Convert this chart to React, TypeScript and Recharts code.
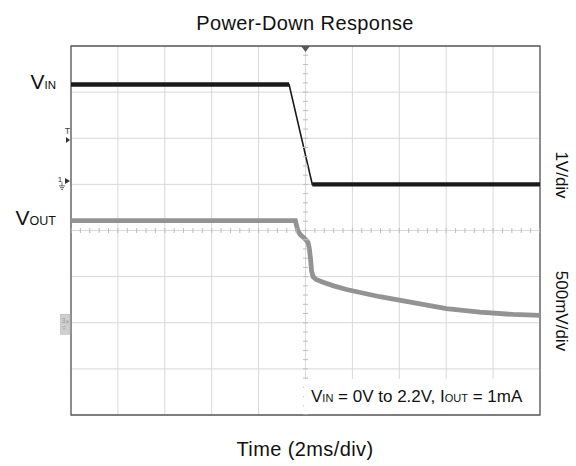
import React from 'react';
import {
  ComposedChart,
  Line,
  XAxis,
  YAxis,
  CartesianGrid,
  ReferenceArea,
  ReferenceDot,
  Scatter,
} from 'recharts';

const W = 576;
const H = 466;
const FONT = '"Liberation Sans", Arial, Helvetica, sans-serif';

// Time axis in ms (2 ms/div), trigger at 0
const timeTicks = [-10, -8, -6, -4, -2, 0, 2, 4, 6, 8, 10];
// VIN channel: 1 V/div, ground marker 5 divisions above bottom
const vinTicks = [-5, -4, -3, -2, -1, 0, 1, 2, 3];
// VOUT channel: 500 mV/div, ground marker 2 divisions above bottom
const voutDomain = [-1, 3];

// VIN trace (V vs ms)
const vinTime = [-10, -0.7, 0.29, 10];
const vinVolts = [2.165, 2.165, 0, 0];

// VOUT trace (V vs ms)
const voutTime = [
  -10, -0.43, -0.34, -0.24, -0.06, 0.11, 0.16, 0.22, 0.26, 0.32, 0.45, 0.75, 1.2,
  1.75, 3.17, 4.59, 6.01, 7.43, 8.85, 10,
];
const voutVolts = [
  1.106, 1.106, 1.01, 0.96, 0.92, 0.87, 0.81, 0.68, 0.56, 0.5, 0.47, 0.44, 0.4,
  0.36, 0.282, 0.217, 0.152, 0.115, 0.09, 0.079,
];

// scope markers
const triggerLevel = 0.96; // V on VIN channel
const vinGround = 0;
const voutGround = 0;

// minor graticule ticks on the centre lines (1/5 division)
const minorYValues = Array.from({ length: 41 }, (_, i) => -5 + i * 0.2);
const minorXValues = Array.from({ length: 51 }, (_, i) => -10 + i * 0.4);

export default function App() {
  const vinData = vinTime.map((t, i) => ({ t, v: vinVolts[i] }));
  const voutData = voutTime.map((t, i) => ({ t, v: voutVolts[i] }));
  const vinHigh = vinData.slice(0, 2);
  const vinLow = vinData.slice(2);
  const minorY = minorYValues.map((v) => ({ t: 0, v }));
  const minorX = minorXValues.map((t) => ({ t, v: -1 }));

  return (
    <div
      style={{
        position: 'absolute',
        left: 0,
        top: 0,
        width: W,
        height: H,
        background: '#fff',
        fontFamily: FONT,
      }}
    >
      <ComposedChart
        width={W}
        height={H}
        margin={{ top: 46, right: 36, bottom: 51, left: 71 }}
      >
        <XAxis
          dataKey="t"
          type="number"
          domain={[-10, 10]}
          ticks={timeTicks}
          hide
          allowDataOverflow
        />
        <YAxis type="number" domain={[-5, 3]} ticks={vinTicks} hide allowDataOverflow />
        <YAxis yAxisId="vout" type="number" domain={voutDomain} hide allowDataOverflow />
        <CartesianGrid stroke="#d8d8d8" strokeWidth={1} />
        <Scatter
          data={minorY}
          dataKey="v"
          isAnimationActive={false}
          shape={(p: any) => (
            <line x1={p.cx - 2.5} x2={p.cx + 2.5} y1={p.cy} y2={p.cy} stroke="#bdbdbd" strokeWidth={1} />
          )}
        />
        <Scatter
          data={minorX}
          dataKey="v"
          isAnimationActive={false}
          shape={(p: any) => (
            <line x1={p.cx} x2={p.cx} y1={p.cy - 2.5} y2={p.cy + 2.5} stroke="#bdbdbd" strokeWidth={1} />
          )}
        />
        <Line
          data={voutData}
          dataKey="v"
          yAxisId="vout"
          type="linear"
          stroke="#939393"
          strokeWidth={4.8}
          dot={false}
          isAnimationActive={false}
        />
        <Line
          data={vinData}
          dataKey="v"
          type="linear"
          stroke="#1a1a1a"
          strokeWidth={1.6}
          dot={false}
          isAnimationActive={false}
        />
        <Line
          data={vinHigh}
          dataKey="v"
          type="linear"
          stroke="#1a1a1a"
          strokeWidth={4.4}
          dot={false}
          isAnimationActive={false}
        />
        <Line
          data={vinLow}
          dataKey="v"
          type="linear"
          stroke="#1a1a1a"
          strokeWidth={4.4}
          dot={false}
          isAnimationActive={false}
        />
        <ReferenceArea
          x1={-10}
          x2={10}
          y1={-5}
          y2={3}
          fill="none"
          fillOpacity={0}
          stroke="#5a5a5a"
          strokeWidth={1.3}
          ifOverflow="visible"
        />
        {/* trigger time marker on top */}
        <ReferenceDot
          x={0}
          y={3}
          r={0}
          ifOverflow="visible"
          shape={(p: any) => (
            <path d={`M${p.cx - 4.5},${p.cy} L${p.cx + 4.5},${p.cy} L${p.cx},${p.cy + 6} Z`} fill="#555" />
          )}
        />
        {/* trigger level marker */}
        <ReferenceDot
          x={-10}
          y={triggerLevel}
          r={0}
          ifOverflow="visible"
          shape={(p: any) => (
            <g>
              <text x={p.cx - 3.5} y={p.cy - 6} fontSize={9} textAnchor="middle" fill="#444" fontFamily={FONT}>
                T
              </text>
              <path d={`M${p.cx - 5},${p.cy - 3} L${p.cx - 1},${p.cy} L${p.cx - 5},${p.cy + 3} Z`} fill="#333" />
            </g>
          )}
        />
        {/* VIN ground marker */}
        <ReferenceDot
          x={-10}
          y={vinGround}
          r={0}
          ifOverflow="visible"
          shape={(p: any) => (
            <g>
              <text x={p.cx - 11} y={p.cy - 2} fontSize={8} textAnchor="middle" fill="#333" fontFamily={FONT}>
                1
              </text>
              <path d={`M${p.cx - 6},${p.cy - 6.5} L${p.cx - 1},${p.cy - 3.5} L${p.cx - 6},${p.cy - 0.5} Z`} fill="#333" />
              <line x1={p.cx - 9} x2={p.cx - 9} y1={p.cy - 2} y2={p.cy + 1.5} stroke="#444" strokeWidth={0.8} />
              <line x1={p.cx - 12} x2={p.cx - 6} y1={p.cy + 1.5} y2={p.cy + 1.5} stroke="#444" strokeWidth={0.8} />
              <line x1={p.cx - 11} x2={p.cx - 7} y1={p.cy + 3.3} y2={p.cy + 3.3} stroke="#444" strokeWidth={0.8} />
              <line x1={p.cx - 10} x2={p.cx - 8} y1={p.cy + 5} y2={p.cy + 5} stroke="#444" strokeWidth={0.8} />
            </g>
          )}
        />
        {/* VOUT ground marker (channel 3 tab) */}
        <ReferenceDot
          x={-10}
          yAxisId="vout"
          y={voutGround}
          r={0}
          ifOverflow="visible"
          shape={(p: any) => (
            <g>
              <rect x={p.cx - 10.5} y={p.cy - 8.5} width={9.5} height={20} fill="#cfcfcf" stroke="#b5b5b5" strokeWidth={0.6} />
              <text x={p.cx - 7.5} y={p.cy} fontSize={7} textAnchor="middle" fill="#9a9a9a" fontFamily={FONT}>
                3
              </text>
              <path d={`M${p.cx - 4.5},${p.cy - 3} L${p.cx - 1.5},${p.cy - 1} L${p.cx - 4.5},${p.cy + 1} Z`} fill="#a8a8a8" />
              <line x1={p.cx - 9} x2={p.cx - 5} y1={p.cy + 4} y2={p.cy + 4} stroke="#a8a8a8" strokeWidth={0.8} />
              <line x1={p.cx - 8.3} x2={p.cx - 5.7} y1={p.cy + 6} y2={p.cy + 6} stroke="#a8a8a8" strokeWidth={0.8} />
            </g>
          )}
        />
        {/* channel labels */}
        <ReferenceDot
          x={-10}
          y={vinVolts[0]}
          r={0}
          ifOverflow="visible"
          shape={(p: any) => (
            <text x={p.cx - 15} y={p.cy + 4} textAnchor="end" fill="#111" fontFamily={FONT}>
              <tspan fontSize={21}>V</tspan>
              <tspan fontSize={11.5}>IN</tspan>
            </text>
          )}
        />
        <ReferenceDot
          x={-10}
          yAxisId="vout"
          y={voutVolts[0]}
          r={0}
          ifOverflow="visible"
          shape={(p: any) => (
            <text x={p.cx - 15} y={p.cy + 4} textAnchor="end" fill="#111" fontFamily={FONT}>
              <tspan fontSize={21}>V</tspan>
              <tspan fontSize={12.5}>OUT</tspan>
            </text>
          )}
        />
      </ComposedChart>
      <svg
        width={W}
        height={H}
        style={{ position: 'absolute', left: 0, top: 0, pointerEvents: 'none' }}
      >
        <text x={305} y={29.5} fontSize={20} letterSpacing={0.4} textAnchor="middle" fill="#111" fontFamily={FONT}>
          Power-Down Response
        </text>
        <text x={305} y={455.5} fontSize={20} letterSpacing={0.4} textAnchor="middle" fill="#111" fontFamily={FONT}>
          Time (2ms/div)
        </text>
        <text
          x={561}
          y={175}
          fontSize={17}
          textAnchor="middle"
          dominantBaseline="central"
          transform="rotate(90 561 175)"
          fill="#111"
          fontFamily={FONT}
        >
          1V/div
        </text>
        <text
          x={561}
          y={311}
          fontSize={17}
          textAnchor="middle"
          dominantBaseline="central"
          transform="rotate(90 561 311)"
          fill="#111"
          fontFamily={FONT}
        >
          500mV/div
        </text>
        <rect x={304} y={379} width={234} height={35} fill="#fff" />
        <text x={311} y={401.5} fill="#111" fontFamily={FONT}>
          <tspan fontSize={17}>V</tspan>
          <tspan fontSize={11}>IN</tspan>
          <tspan fontSize={17}> = 0V to 2.2V, I</tspan>
          <tspan fontSize={11}>OUT</tspan>
          <tspan fontSize={17}> = 1mA</tspan>
        </text>
      </svg>
    </div>
  );
}
